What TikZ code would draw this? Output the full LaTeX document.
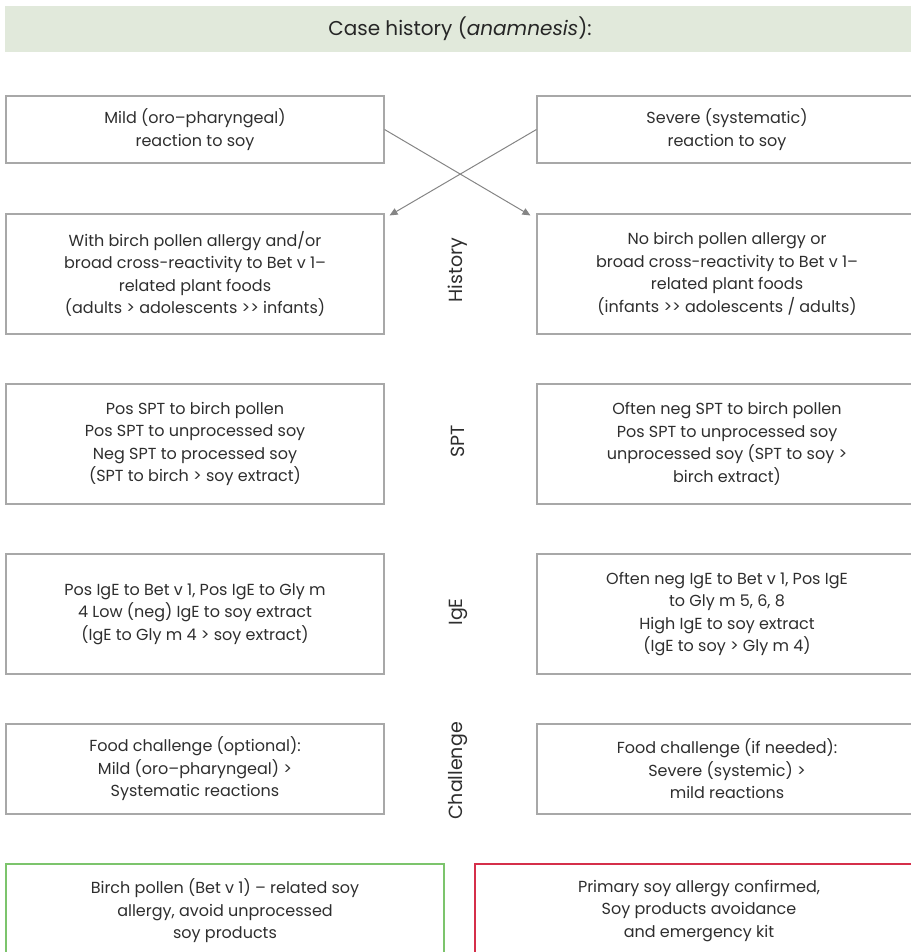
\documentclass[tikz,border=0pt]{standalone}
\usepackage{fontspec}
\setmainfont{Poppins}
\usetikzlibrary{arrows.meta}

\definecolor{boxgray}{HTML}{A8A8A8}
\definecolor{arrowgray}{HTML}{858585}
\definecolor{textgray}{HTML}{2E2E2E}
\definecolor{bannergreen}{HTML}{E1E9DB}
\definecolor{okgreen}{HTML}{7CC46C}
\definecolor{alertred}{HTML}{D52F4A}

\tikzset{
        box/.style={draw=boxgray, line width=1.1pt, align=center, inner sep=0pt,
                text=textgray, font=\fontsize{16}{22.5}\selectfont},
        sidebox/.style={box, minimum width=378pt},
        rowlabel/.style={rotate=90, text=textgray, font=\fontsize{19}{22}\selectfont},
        cross/.style={->, arrowgray, line width=1pt},
}

\begin{document}
\begin{tikzpicture}[x=1pt, y=-1pt, >={Triangle[length=8pt, width=7pt]}]
        \useasboundingbox (0,0) rectangle (910,952);
        \node (banner) [fill=bannergreen, minimum width=910pt, minimum height=46pt, inner sep=0pt,
                font=\fontsize{20}{24}\selectfont, text=black!85] at (460,29) {Case history (\textit{anamnesis}):};

        \node (mild) [sidebox, minimum height=67pt] at (195,129.5) {Mild (oro–pharyngeal)\\reaction to soy};
        \node (severe) [sidebox, minimum width=380pt, minimum height=67pt] at (727,129.5) {Severe (systematic)\\reaction to soy};

        \node (birch) [sidebox, minimum height=120pt] at (195,274) {With birch pollen allergy and/or\\broad cross-reactivity to Bet v 1–\\related plant foods\\(adults > adolescents >{}> infants)};
        \node (nobirch) [sidebox, minimum width=380pt, minimum height=120pt] at (727,274) {No birch pollen allergy or\\broad cross-reactivity to Bet v 1–\\related plant foods\\(infants >{}> adolescents / adults)};

        \node (sptL) [sidebox, minimum height=120pt] at (195,444) {Pos SPT to birch pollen\\Pos SPT to unprocessed soy\\Neg SPT to processed soy\\(SPT to birch > soy extract)};
        \node (sptR) [sidebox, minimum width=380pt, minimum height=120pt] at (727,444) {Often neg SPT to birch pollen\\Pos SPT to unprocessed soy\\unprocessed soy (SPT to soy >\\birch extract)};

        \node (igeL) [sidebox, minimum height=120pt] at (195,614) {Pos IgE to Bet v 1, Pos IgE to Gly m\\4 Low (neg) IgE to soy extract\\(IgE to Gly m 4 > soy extract)};
        \node (igeR) [sidebox, minimum width=380pt, minimum height=120pt] at (727,614) {Often neg IgE to Bet v 1, Pos IgE\\to Gly m 5, 6, 8\\High IgE to soy extract\\(IgE to soy > Gly m 4)};

        \node (chalL) [sidebox, minimum height=90pt] at (195,769) {Food challenge (optional):\\Mild (oro–pharyngeal) >\\Systematic reactions};
        \node (chalR) [sidebox, minimum width=380pt, minimum height=90pt] at (727,769) {Food challenge (if needed):\\Severe (systemic) >\\mild reactions};

        \node (pollenallergy) [box, draw=okgreen, minimum width=438pt, minimum height=94pt] at (225,911) {Birch pollen (Bet v 1) – related soy\\allergy, avoid unprocessed\\soy products};
        \node (primary) [box, draw=alertred, minimum width=448pt, minimum height=94pt] at (699,911) {Primary soy allergy confirmed,\\Soy products avoidance\\and emergency kit};

        \node (history) [rowlabel] at (458,270) {History};
        \node (spt) [rowlabel] at (458,441) {SPT};
        \node (ige) [rowlabel] at (458,612) {IgE};
        \node (challenge) [rowlabel] at (458,771) {Challenge};

        \draw [cross] (mild.east) -- ([xshift=-6pt, yshift=-2pt]nobirch.north west);
        \draw [cross] (severe.west) -- ([xshift=5pt, yshift=-2pt]birch.north east);
    \end{tikzpicture}
\end{document}
